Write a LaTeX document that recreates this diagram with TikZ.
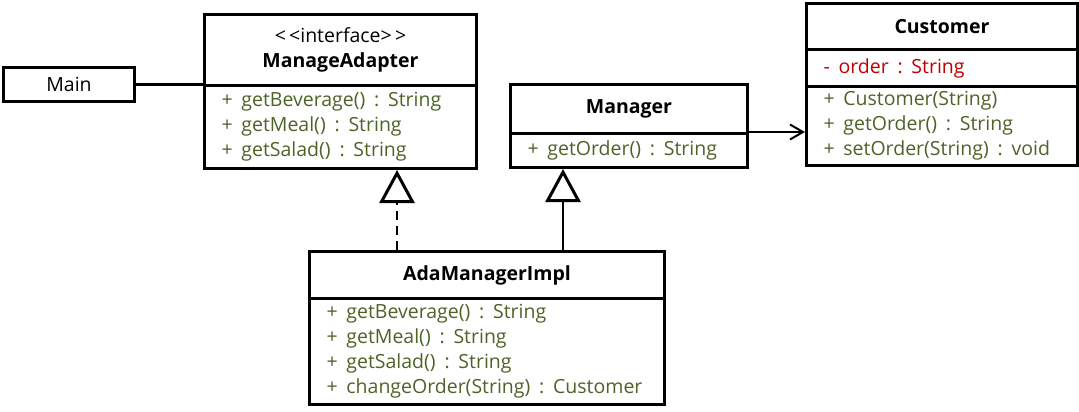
\documentclass[tikz,border=0pt]{standalone}
\usepackage{fontspec}
\setmainfont{Open Sans}
\usepackage{xcolor}
\usepackage{tikz}
\usetikzlibrary{arrows.meta}
\definecolor{methodgreen}{HTML}{4F6228}
\definecolor{fieldred}{HTML}{C00000}
\newcommand{\umltext}{\fontsize{19.5}{25}\selectfont}
\newcommand{\vis}[1]{#1\hspace{0.45em}}
\newcommand{\typ}{\hspace{0.45em}:\hspace{0.45em}}
\tikzset{
plainbox/.style={rectangle, draw=black!100, line width=3pt, inner sep=0pt, anchor=north west, font=\umltext},
classhead/.style={rectangle, draw=black!100, line width=3pt, inner sep=0pt, anchor=north west, align=center, font=\umltext\bfseries},
classbody/.style={rectangle, draw=black!100, line width=3pt, inner xsep=17pt, inner ysep=0pt, anchor=north west, align=left, font=\umltext, text=methodgreen},
classfield/.style={classbody, text=fieldred},
association/.style={line width=2pt, black},
realizes/.style={line width=2pt, black, dash pattern=on 9pt off 6pt, -{Triangle[open, length=33pt, width=35pt, line width=3pt]}},
inherits/.style={line width=2pt, black, -{Triangle[open, length=33pt, width=35pt, line width=3pt]}},
navigates/.style={line width=2pt, black, -{Straight Barb[length=13pt, width=15pt, line width=2pt]}},
}

\begin{document}
\begin{tikzpicture}[x=1pt, y=-1pt]
  \useasboundingbox (0,0) rectangle (1079,412);

  \node[plainbox, minimum width=131pt, minimum height=34pt] at (2,66) (mainbox) {Main};

  \node[classhead, minimum width=272pt, minimum height=71pt] at (203,13) (adapterhead) {\mdseries <\,<interface>\,>\\ ManageAdapter};
  \node[classbody, minimum width=272pt, minimum height=83pt, text width=238pt] at (203,84) (adapterbody) {\vis{+}getBeverage()\typ String\\ \vis{+}getMeal()\typ String\\ \vis{+}getSalad()\typ String};

  \node[classhead, minimum width=237pt, minimum height=49pt] at (509,83) (managerhead) {Manager};
  \node[classbody, minimum width=237pt, minimum height=34pt, text width=203pt] at (509,132) (managerbody) {\vis{+}getOrder()\typ String};

  \node[classhead, minimum width=271pt, minimum height=46pt] at (805,2) (customerhead) {Customer};
  \node[classfield, minimum width=271pt, minimum height=37pt, text width=237pt] at (805,48) (customerfield) {\vis{-}order\typ String};
  \node[classbody, minimum width=271pt, minimum height=79pt, text width=237pt] at (805,85) (customerbody) {\vis{+}Customer(String)\\ \vis{+}getOrder()\typ String\\ \vis{+}setOrder(String)\typ void};

  \node[classhead, minimum width=355pt, minimum height=47pt] at (308,250) (implhead) {AdaManagerImpl};
  \node[classbody, minimum width=355pt, minimum height=106pt, text width=321pt] at (308,297) (implbody) {\vis{+}getBeverage()\typ String\\ \vis{+}getMeal()\typ String\\ \vis{+}getSalad()\typ String\\ \vis{+}changeOrder(String)\typ Customer};

  \coordinate (implleft) at (397,250);
  \coordinate (implright) at (563,250);

  \draw[association] (mainbox) -- (mainbox -| adapterhead.west);
  \draw[navigates] (managerbody.north east) -- (managerbody.north east -| customerbody.west);
  \draw[realizes] (implleft) -- (implleft |- adapterbody.south);
  \draw[inherits] (implright) -- (implright |- managerbody.south);
\end{tikzpicture}
\end{document}
